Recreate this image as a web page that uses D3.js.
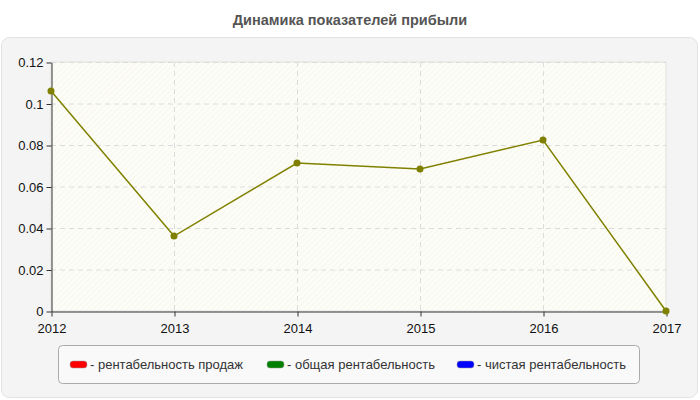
<!DOCTYPE html>
<html>
<head>
<meta charset="utf-8">
<script src="https://cdn.jsdelivr.net/npm/d3@7"></script>
<style>
  body { margin: 0; background: #fff; }
  text { font-family: "Liberation Sans", Arial, sans-serif; }
</style>
</head>
<body>
<div id="chart"></div>
<script>
// data
const years = [2012, 2013, 2014, 2015, 2016, 2017];
const profitValues = [0.106, 0.0361, 0.0713, 0.0684, 0.0824, 0];
const yTicks = [0, 0.02, 0.04, 0.06, 0.08, 0.1, 0.12];
const legendLabels = ["- рентабельность продаж", "- общая рентабельность", "- чистая рентабельность"];
const legendColors = ["#ff0000", "#008000", "#0000ff"];

const w = 700, h = 400;
const margin = { left: 51, right: 34, top: 62, bottom: 89 };

const svg = d3.select("#chart").append("svg")
  .attr("width", w)
  .attr("height", h);

// hatch pattern for plot background
const defs = svg.append("defs");
const pat = defs.append("pattern")
  .attr("id", "hatch")
  .attr("patternUnits", "userSpaceOnUse")
  .attr("width", 4).attr("height", 4)
  .attr("patternTransform", "rotate(45)");
pat.append("rect").attr("width", 4).attr("height", 4).attr("fill", "#fdfdf7");
pat.append("line").attr("x1", 0).attr("y1", 0).attr("x2", 0).attr("y2", 4)
  .attr("stroke", "#f1f1ea").attr("stroke-width", 1);

// title
svg.append("text")
  .attr("x", w / 2).attr("y", 25)
  .attr("text-anchor", "middle")
  .attr("font-size", 14.5).attr("font-weight", "bold")
  .attr("fill", "#555")
  .text("Динамика показателей прибыли");

// panel
svg.append("rect")
  .attr("x", 1.5).attr("y", 37.5)
  .attr("width", 696).attr("height", 360)
  .attr("rx", 8)
  .attr("fill", "#f4f4f4")
  .attr("stroke", "#e3e3e3");

const x = d3.scalePoint()
  .domain(years)
  .range([margin.left, w - margin.right]);

const y = d3.scaleLinear()
  .domain([0, 0.12])
  .range([h - margin.bottom, margin.top]);

// plot background
svg.append("rect")
  .attr("x", margin.left).attr("y", margin.top)
  .attr("width", w - margin.left - margin.right)
  .attr("height", h - margin.top - margin.bottom)
  .attr("fill", "url(#hatch)")
  .attr("stroke", "#e0e0e0");

// grid
svg.append("g")
  .selectAll("line")
  .data(yTicks.filter(d => d > 0))
  .enter().append("line")
  .attr("x1", margin.left).attr("x2", w - margin.right)
  .attr("y1", d => y(d) + 0.5).attr("y2", d => y(d) + 0.5)
  .attr("stroke", "#dcdcdc")
  .attr("stroke-dasharray", "5,4");

svg.append("g")
  .selectAll("line")
  .data(years.slice(1, -1))
  .enter().append("line")
  .attr("x1", d => x(d) + 0.5).attr("x2", d => x(d) + 0.5)
  .attr("y1", margin.top).attr("y2", h - margin.bottom)
  .attr("stroke", "#dcdcdc")
  .attr("stroke-dasharray", "5,4");

// axes
const xAxis = svg.append("g")
  .attr("transform", `translate(0.5,${h - margin.bottom + 0.5})`)
  .call(d3.axisBottom(x).tickSize(5).tickSizeOuter(0).tickFormat(d3.format("d")));
xAxis.selectAll("text").attr("dy", "1.05em");

const yAxis = svg.append("g")
  .attr("transform", `translate(${margin.left + 0.5},0.5)`)
  .call(d3.axisLeft(y).tickValues(yTicks).tickSize(5).tickSizeOuter(0).tickFormat(d => d3.format("")(+d.toFixed(2))));

[xAxis, yAxis].forEach(a => {
  a.attr("font-size", 13).attr("font-family", "Liberation Sans, Arial, sans-serif");
  a.selectAll("text").attr("fill", "#111");
  a.select(".domain").attr("stroke", "#333");
  a.selectAll(".tick line").attr("stroke", "#333");
});

// line
const line = d3.line()
  .x((d, i) => x(years[i]))
  .y(d => y(d));

svg.append("path")
  .datum(profitValues)
  .attr("d", line)
  .attr("fill", "none")
  .attr("stroke", "#808000")
  .attr("stroke-width", 1.5);

svg.append("g")
  .selectAll("circle")
  .data(profitValues)
  .enter().append("circle")
  .attr("cx", (d, i) => x(years[i]))
  .attr("cy", d => y(d))
  .attr("r", 3.5)
  .attr("fill", "#808000");

// legend
svg.append("rect")
  .attr("x", 58.5).attr("y", 345.5)
  .attr("width", 581).attr("height", 38)
  .attr("rx", 4)
  .attr("fill", "#f9f9f9")
  .attr("stroke", "#aaa");

const legendX = [70, 267, 457];
const lg = svg.append("g")
  .selectAll("g")
  .data(legendLabels)
  .enter().append("g")
  .attr("transform", (d, i) => `translate(${legendX[i]},361)`);

lg.append("rect")
  .attr("width", 17).attr("height", 7)
  .attr("rx", 3)
  .attr("fill", (d, i) => legendColors[i])
  .attr("stroke", "#999")
  .attr("stroke-width", 0.5);

lg.append("text")
  .attr("x", 20).attr("y", 8)
  .attr("font-size", 13)
  .attr("fill", "#333")
  .text(d => d);
</script>
</body>
</html>
